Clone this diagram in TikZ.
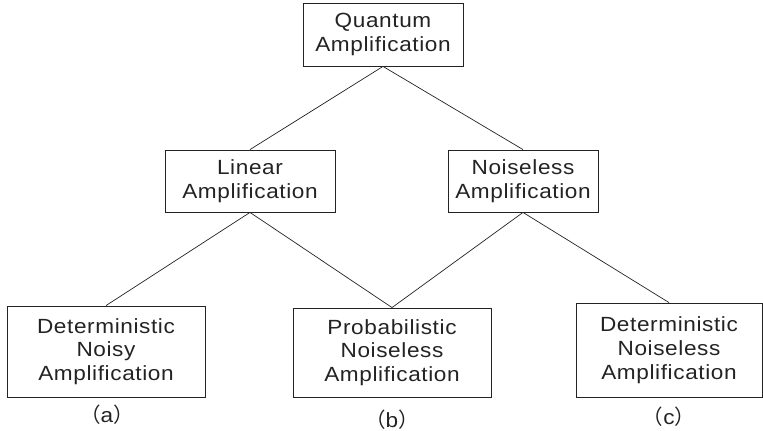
\documentclass[tikz,border=0pt]{standalone}
\usepackage{fontspec}
\setmainfont{Liberation Sans}[FakeStretch=1.1, LetterSpace=3]
\newfontfamily\cjk{Noto Sans CJK SC}
\definecolor{inkgray}{RGB}{35,35,35}
\tikzset{
    ampbox/.style={draw=inkgray, line width=0.6pt, text=inkgray, align=center,
        inner sep=0pt, font=\fontsize{14.6}{16.9}\selectfont},
    caselabel/.style={text=inkgray, font=\fontsize{14.6}{16.9}\selectfont},
    branch/.style={draw=inkgray, line width=0.5pt}
}
\begin{document}
\begin{tikzpicture}[x=0.025cm, y=-0.025cm]
            \useasboundingbox (0, 0) rectangle (763, 431);
            \node[ampbox, minimum width=160*0.025cm, minimum height=63*0.025cm]
                (quantum) at (383, 34.5) {Quantum\\Amplification};
            \node[ampbox, minimum width=170*0.025cm, minimum height=62*0.025cm]
                (linear) at (250, 181) {Linear\\Amplification};
            \node[ampbox, minimum width=150*0.025cm, minimum height=62*0.025cm]
                (noiseless) at (523, 181) {Noiseless\\Amplification};
            \node[ampbox, minimum width=198*0.025cm, minimum height=91*0.025cm]
                (noisy) at (106, 351.5) {Deterministic\\Noisy\\Amplification};
            \node[ampbox, minimum width=198*0.025cm, minimum height=89*0.025cm]
                (prob) at (392, 352.5) {Probabilistic\\Noiseless\\Amplification};
            \node[ampbox, minimum width=186*0.025cm, minimum height=94*0.025cm]
                (detnl) at (669, 350) {Deterministic\\Noiseless\\Amplification};
            \node[caselabel] (labela) at (107, 415) {{\cjk （}a{\cjk ）}};
            \node[caselabel] (labelb) at (392, 420) {{\cjk （}b{\cjk ）}};
            \node[caselabel] (labelc) at (669, 417) {{\cjk （}c{\cjk ）}};
            \draw[branch]
                (quantum.south) -- (linear.north)
                (quantum.south) -- (noiseless.north)
                (linear.south) -- (noisy.north)
                (linear.south) -- (prob.north)
                (noiseless.south) -- (prob.north)
                (noiseless.south) -- (detnl.north);
        \end{tikzpicture}
\end{document}
